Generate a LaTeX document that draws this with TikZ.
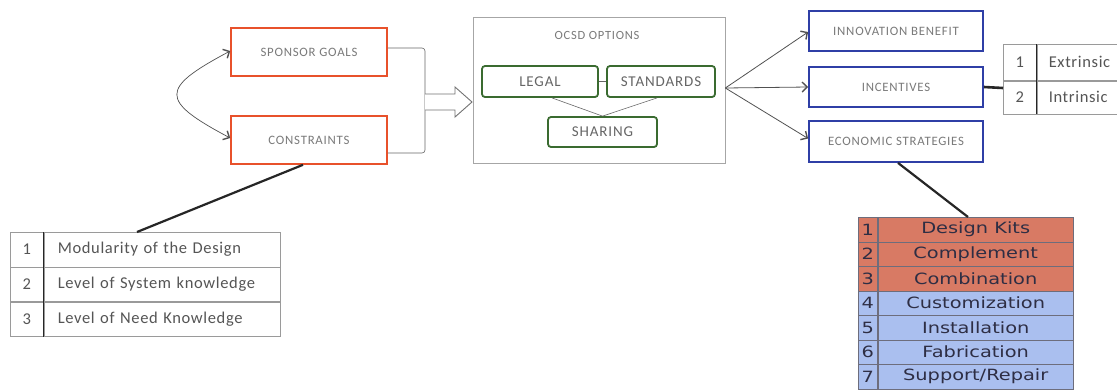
\documentclass[tikz,border=0pt]{standalone}
\usepackage{fontspec}
\setmainfont{Carlito}
\newfontfamily\labfont[LetterSpace=6]{Carlito}
\newfontfamily\rowfont[LetterSpace=4]{Carlito}
\newfontfamily\tabfont[FakeStretch=1.25]{DejaVu Sans}
\usetikzlibrary{arrows.meta,calc}

\definecolor{goalred}{HTML}{E8512B}
\definecolor{outblue}{HTML}{2F3FA6}
\definecolor{optgreen}{HTML}{3A6B30}
\definecolor{labgray}{HTML}{7A7A7A}
\definecolor{txtgray}{HTML}{555555}
\definecolor{gridgray}{HTML}{9A9A9A}
\definecolor{rowred}{HTML}{D87A64}
\definecolor{rowblue}{HTML}{AABFEF}
\definecolor{tabink}{HTML}{2E2E44}
\definecolor{linkdark}{HTML}{262626}

\tikzset{
  goalbox/.style={draw=goalred, line width=1.6pt, minimum width=156pt, minimum height=48pt,
    inner sep=0pt, font=\labfont\fontsize{12.8}{14}\selectfont, text=labgray},
  outbox/.style={draw=outblue, line width=1.8pt, minimum width=174pt, minimum height=40pt,
    inner sep=0pt, font=\labfont\fontsize{12.8}{14}\selectfont, text=labgray},
  optbox/.style={draw=optgreen, line width=1.8pt, rounded corners=3pt, inner sep=0pt,
    minimum height=31pt, font=\labfont\fontsize{15}{17}\selectfont, text=txtgray!90},
  thinlink/.style={draw=gray!80!black, line width=0.6pt},
  arrowlink/.style={draw=linkdark!80, line width=0.8pt, -{Straight Barb[length=5pt,width=10pt,line width=1.4pt]}},
  boldlink/.style={draw=linkdark, line width=2.2pt},
  numcell/.style={draw=gridgray, line width=0.5pt, inner sep=0pt, anchor=north west,
    font=\rowfont\fontsize{16.5}{18}\selectfont, text=txtgray},
  txtcell/.style={draw=gridgray, line width=0.5pt, inner xsep=14pt, inner ysep=0pt, anchor=north west,
    align=left, font=\rowfont\fontsize{16.5}{18}\selectfont, text=txtgray},
  ecocell/.style={draw=tabink!70, line width=0.8pt, inner sep=0pt, anchor=north west,
    font=\tabfont\fontsize{15.5}{17}\selectfont, text=tabink, minimum height=24.5pt},
}

\begin{document}
\begin{tikzpicture}[x=1pt,y=1pt]
\useasboundingbox (0,0) rectangle (1117,-389);
\clip (0,0) rectangle (1117,-389);
\fill[white] (0,0) rectangle (1117,-389);

% inputs on the left
\node[goalbox] (sg) at (309,-52) {SPONSOR GOALS};
\node[goalbox] (cs) at (309,-140) {CONSTRAINTS};
\draw[draw=linkdark!80, line width=0.7pt,
      {Straight Barb[length=5pt,width=10pt,line width=1.4pt]}-{Straight Barb[length=5pt,width=10pt,line width=1.4pt]}]
  ([yshift=1pt]sg.west) to[out=208,in=152,distance=80pt] ([yshift=2pt]cs.west);

% bracket gathering both inputs
\coordinate (br) at (425,-102);
\draw[thinlink, rounded corners=3pt] ([yshift=4pt]sg.east) -| (br) |- ([yshift=-13pt]cs.east);

% hollow block arrow into the options box
\draw[draw=gray!90!black, line width=0.9pt, fill=white]
  ($(br)+(0,8)$) -- ++(30,0) -- ++(0,7) -- ($(br)+(47,0)$) -- ($(br)+(30,-15)$) -- ++(0,7) -- ($(br)+(0,-8)$);

% OCSD options
\node[draw=gray!70, line width=0.7pt, minimum width=252pt, minimum height=146pt, inner sep=0pt] (ocsd) at (599,-90) {};
\node[font=\labfont\fontsize{12.5}{14}\selectfont, text=labgray] (octitle) at (597,-35) {OCSD OPTIONS};
\node[optbox, minimum width=116pt] (legal) at (540,-81.5) {LEGAL};
\node[optbox, minimum width=108pt] (std) at (661,-81.5) {STANDARDS};
\node[optbox, minimum width=109pt, minimum height=30pt] (shr) at (602.5,-132) {SHARING};
\draw[thinlink] (legal.east) -- (std.west);
\draw[thinlink] ([xshift=12pt]legal.south) -- (shr.north);
\draw[thinlink] ([xshift=-4pt]std.south) -- (shr.north);

% outcomes
\node[outbox] (ib) at (896,-31) {INNOVATION BENEFIT};
\node[outbox] (inc) at (896,-87) {INCENTIVES};
\node[outbox, minimum height=41pt] (eco) at (896,-141.5) {ECONOMIC STRATEGIES};
\draw[arrowlink] ([yshift=2pt]ocsd.east) -- ([yshift=-1pt]ib.west);
\draw[arrowlink] ([yshift=2pt]ocsd.east) -- (inc.west);
\draw[arrowlink] ([yshift=2pt]ocsd.east) -- ([yshift=3pt]eco.west);

% incentive kinds
\node[numcell, minimum width=33pt, minimum height=36pt] (i1n) at (1003,-44) {1};
\node[txtcell, inner xsep=12pt, text width=80pt, minimum height=36pt] (i1t) at (i1n.north east) {Extrinsic};
\node[numcell, minimum width=33pt, minimum height=33pt] (i2n) at (i1n.south west) {2};
\node[txtcell, inner xsep=12pt, text width=80pt, minimum height=33pt] (i2t) at (i2n.north east) {Intrinsic};
\draw[draw=linkdark, line width=1.6pt] (i1n.north east) -- (i2n.south east);
\coordinate (itab) at (1003,-88);
\draw[boldlink, line width=2.6pt] (inc.east) -- (itab);

% constraint factors
\node[numcell, minimum width=33pt, minimum height=34.5pt] (c1n) at (10,-232) {1};
\node[txtcell, text width=208pt, minimum height=34.5pt] (c1t) at (c1n.north east) {Modularity of the Design};
\node[numcell, minimum width=33pt, minimum height=34pt] (c2n) at (c1n.south west) {2};
\node[txtcell, text width=208pt, minimum height=34pt] (c2t) at (c2n.north east) {Level of System knowledge};
\node[numcell, minimum width=33pt, minimum height=34.5pt] (c3n) at (c2n.south west) {3};
\node[txtcell, text width=208pt, minimum height=34.5pt] (c3t) at (c3n.north east) {Level of Need Knowledge};
\draw[draw=linkdark, line width=1.2pt] (c1n.north east) -- (c3n.south east);
\coordinate (ctop) at (137,-232);
\draw[boldlink] ([xshift=-6pt]cs.south) -- (ctop);

% economic strategies
\foreach \i/\lab/\fillc [count=\k] in {1/Design Kits/rowred, 2/Complement/rowred, 3/Combination/rowred,
    4/Customization/rowblue, 5/Installation/rowblue, 6/Fabrication/rowblue, 7/Support\slash Repair/rowblue}{
  \node[ecocell, fill=\fillc, minimum width=19pt] (e\i n) at (858,{-217-24.5*(\k-1)}) {\i};
  \node[ecocell, fill=\fillc, minimum width=195pt] (e\i t) at (e\i n.north east) {\lab};
}
\coordinate (etop) at (968,-217);
\draw[boldlink] ([xshift=2pt]eco.south) -- (etop);
\end{tikzpicture}
\end{document}
